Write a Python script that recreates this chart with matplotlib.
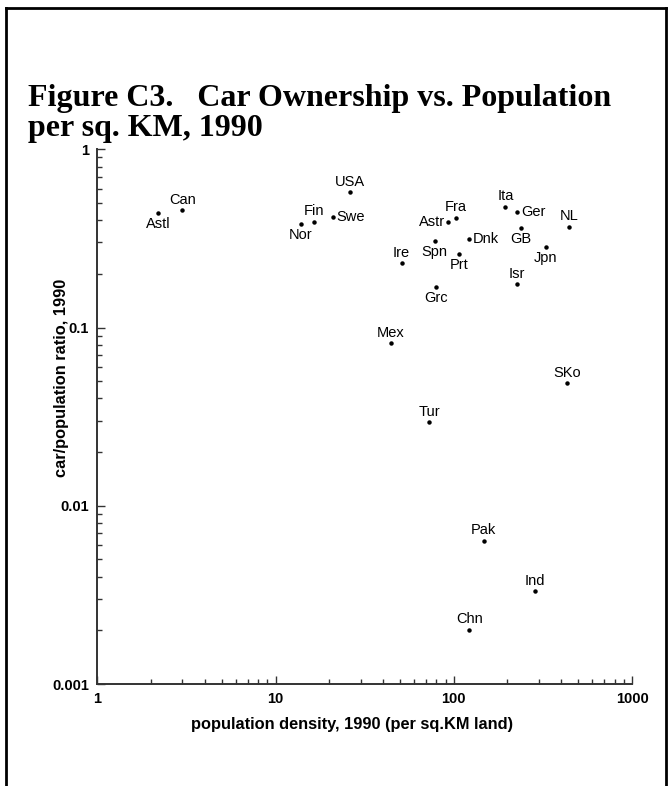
import matplotlib
matplotlib.use("Agg")
import matplotlib.pyplot as plt
from matplotlib.lines import Line2D
from matplotlib.ticker import FixedLocator, FixedFormatter, LogLocator, NullFormatter

# ---- data ----
countries = ["Astl", "Can", "Nor", "Fin", "Swe", "USA", "Fra", "Astr", "Ita", "Ger",
             "NL", "GB", "Dnk", "Spn", "Jpn", "Prt", "Ire", "Isr", "Grc", "Mex",
             "SKo", "Tur", "Pak", "Ind", "Chn"]
density = [2.2, 3.0, 13.9, 16.4, 20.9, 26.2, 103, 93, 195, 226,
           442, 238, 121, 78, 328, 107, 51, 226, 80, 44.5,
           432, 73, 147, 285, 122]
car_ratio = [0.441, 0.455, 0.379, 0.391, 0.419, 0.574, 0.413, 0.389, 0.476, 0.447,
             0.368, 0.360, 0.313, 0.306, 0.282, 0.259, 0.229, 0.175, 0.169, 0.0815,
             0.0486, 0.0295, 0.00636, 0.00331, 0.00201]
x_ticks = [1, 10, 100, 1000]
x_ticklabels = ["1", "10", "100", "1000"]
y_ticks = [0.001, 0.01, 0.1, 1]
y_ticklabels = ["0.001", "0.01", "0.1", "1"]

# label placement (layout only)
placement = {"Astl": "below", "Can": "above", "Nor": "below", "Fin": "above", "Swe": "right",
             "USA": "above", "Fra": "above", "Astr": "left", "Ita": "above", "Ger": "right",
             "NL": "above", "GB": "below", "Dnk": "right", "Spn": "below", "Jpn": "below",
             "Prt": "below", "Ire": "above", "Isr": "above", "Grc": "below", "Mex": "above",
             "SKo": "above", "Tur": "above", "Pak": "above", "Ind": "above", "Chn": "above"}

W, H = 669, 786
fig = plt.figure(figsize=(W / 100, H / 100), dpi=100)

# figure frame (left, top, right)
fx = lambda px: px / W
fy = lambda py: 1 - py / H
for xs, ys in [((6, 6), (8, 786)), ((6, 666), (8, 8)), ((666, 666), (8, 786))]:
    fig.add_artist(Line2D([fx(xs[0]), fx(xs[1])], [fy(ys[0]), fy(ys[1])],
                          transform=fig.transFigure, color="black", lw=2))

# title
fig.text(fx(28), fy(136), "Figure C3.   Car Ownership vs. Population\nper sq. KM, 1990",
         family="Liberation Serif", weight="bold", fontsize=23, ha="left", va="baseline",
         linespacing=1.05)

ax = fig.add_axes([97.3 / W, 1 - 684 / H, (632 - 97.3) / W, (684 - 149.3) / H])
ax.set_xscale("log")
ax.set_yscale("log")
ax.set_xlim(1, 1000)
ax.set_ylim(0.001, 1)

ax.plot(density, car_ratio, "o", color="black", markersize=2.2, linestyle="none")

pt = 72 / 100  # points per pixel
for name, x, y in zip(countries, density, car_ratio):
    p = placement[name]
    if p == "above":
        off, ha, va = (0, 3.5 * pt), "center", "bottom"
    elif p == "below":
        off, ha, va = (0, -4 * pt), "center", "top"
    elif p == "left":
        off, ha, va = (-3 * pt, 0), "right", "center"
    else:
        off, ha, va = (4 * pt, 0), "left", "center"
    ax.annotate(name, (x, y), xytext=off, textcoords="offset points", ha=ha, va=va,
                fontsize=10.5, family="Liberation Sans", color="black")

for s in ["top", "right"]:
    ax.spines[s].set_visible(False)
for s in ["left", "bottom"]:
    ax.spines[s].set_linewidth(1.4)
    ax.spines[s].set_color("#333333")

ax.xaxis.set_major_locator(FixedLocator(x_ticks))
ax.xaxis.set_major_formatter(FixedFormatter(x_ticklabels))
ax.yaxis.set_major_locator(FixedLocator(y_ticks))
ax.yaxis.set_major_formatter(FixedFormatter(y_ticklabels))
ax.xaxis.set_minor_locator(LogLocator(base=10, subs=range(2, 10)))
ax.yaxis.set_minor_locator(LogLocator(base=10, subs=range(2, 10)))
ax.xaxis.set_minor_formatter(NullFormatter())
ax.yaxis.set_minor_formatter(NullFormatter())
ax.tick_params(which="both", direction="in", color="#333333", width=1.0)
ax.tick_params(which="major", length=6, pad=6)
ax.tick_params(which="minor", length=3.5)
for lab in ax.get_xticklabels() + ax.get_yticklabels():
    lab.set_family("Liberation Sans")
    lab.set_fontweight("bold")
    lab.set_fontsize(10.5)

ax.set_xlabel("population density, 1990 (per sq.KM land)", family="Liberation Sans",
              weight="bold", fontsize=11.8)
ax.xaxis.set_label_coords((352 - 97.3) / (632 - 97.3), -(724 - 684) / (684 - 149.3))
ax.set_ylabel("car/population ratio, 1990", family="Liberation Sans",
              weight="bold", fontsize=11.8)
ax.yaxis.set_label_coords(-(97.3 - 62) / (632 - 97.3), (684 - 378) / (684 - 149.3))
ax.xaxis.label.set_va("center")
ax.yaxis.label.set_va("center")

fig.savefig("out.png", dpi=100)
